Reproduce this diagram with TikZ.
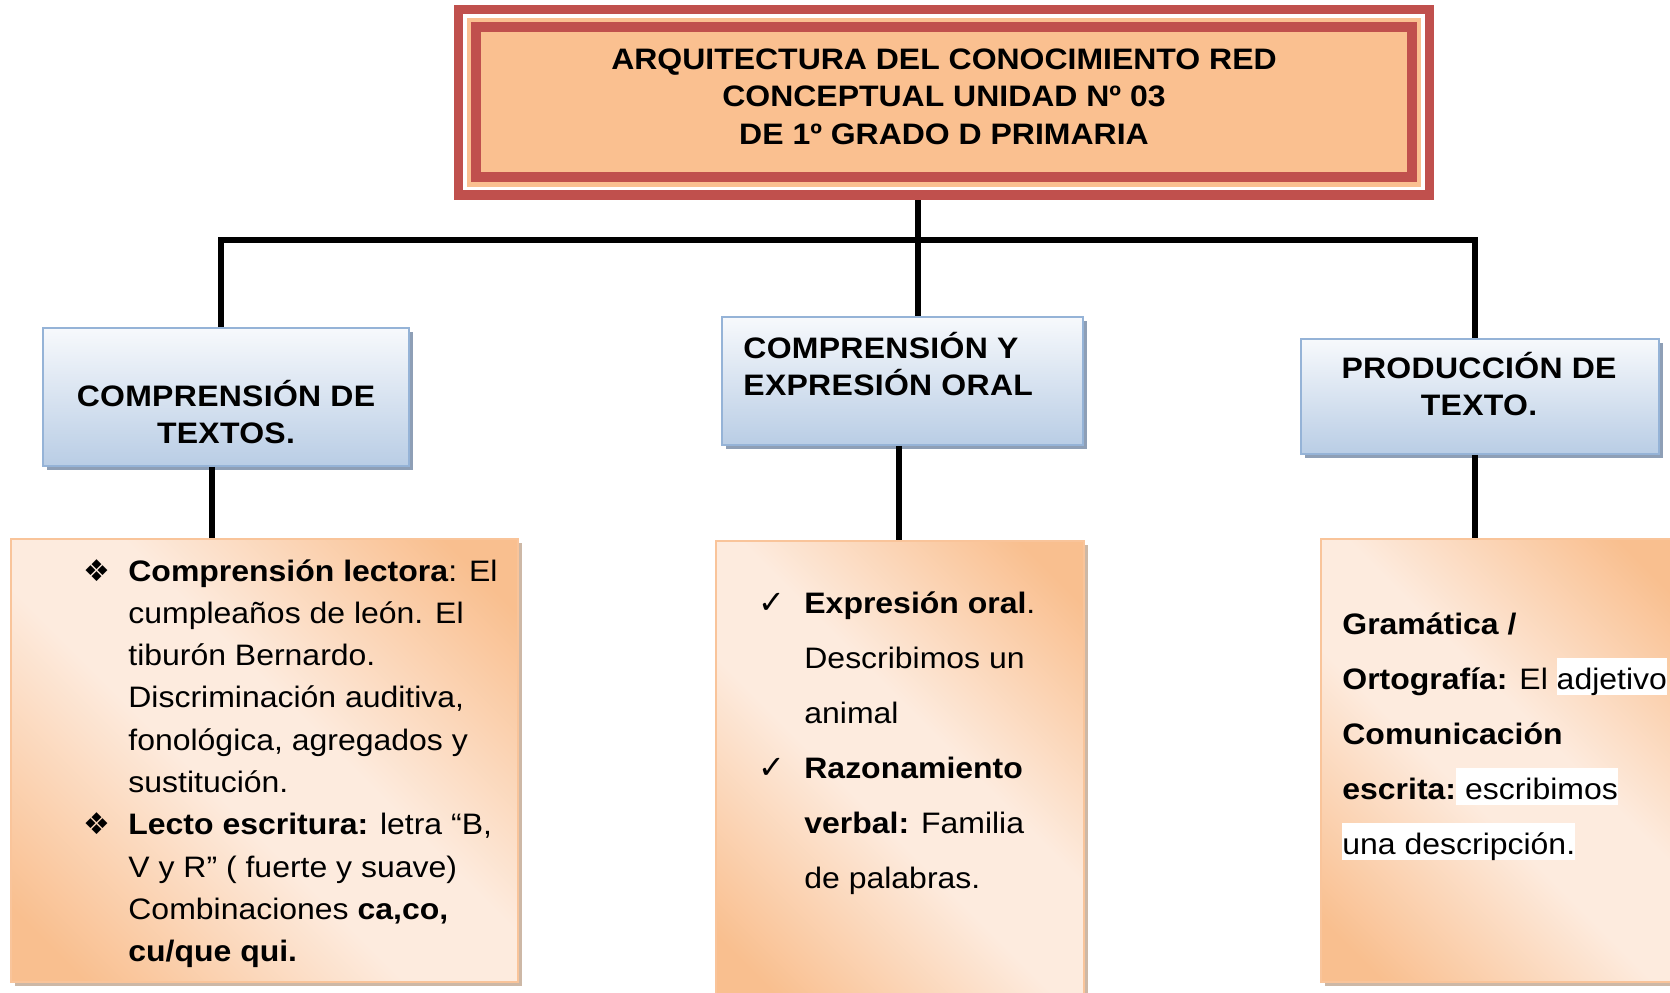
\documentclass[tikz,border=0pt]{standalone}
\usepackage{fontspec}
\setmainfont{Liberation Sans}[FakeStretch=1.08]
\newfontfamily\symfnt{DejaVu Sans}
\usetikzlibrary{shadows}
\definecolor{tred}{HTML}{C0504D}
\definecolor{tor}{HTML}{FAC090}
\definecolor{bltop}{HTML}{F7F9FC}
\definecolor{blbot}{HTML}{B9CDE5}
\definecolor{blline}{HTML}{95B3D7}
\definecolor{blshadow}{HTML}{8E9FB6}
\definecolor{pkor}{HTML}{F9BF8F}
\definecolor{pklt}{HTML}{FDEBDE}
\definecolor{pkline}{HTML}{F9C49A}
\definecolor{pkshadow}{HTML}{CDB8A6}
\pgfdeclarehorizontalshading{peach}{100bp}{color(0bp)=(pkor); color(20bp)=(pkor); color(44bp)=(pklt); color(56bp)=(pklt); color(80bp)=(pkor); color(100bp)=(pkor)}
\newcommand\hlw[1]{{\setlength{\fboxsep}{0pt}\colorbox{white}{\rule[-3pt]{0pt}{18.5pt}#1}}}
\tikzset{
  bluebox/.style={draw=blline, line width=0.8pt, top color=bltop, bottom color=blbot, inner sep=0,
    drop shadow={opacity=1, fill=blshadow, shadow xshift=2.2pt, shadow yshift=-2.2pt}},
  pkbox/.style={draw=pkline, line width=0.8pt, shade, shading=peach, shading angle=45, inner sep=0,
    drop shadow={opacity=1, fill=pkshadow, shadow xshift=2pt, shadow yshift=-2pt}},
  conn/.style={line width=2.6pt, black, line join=miter},
  ttxt/.style={inner sep=0, anchor=base, font={\fontsize{14.8}{18.75}\selectfont\bfseries}},
  btxt/.style={inner sep=0, font={\fontsize{14.8}{18.5}\selectfont\bfseries\addfontfeature{LetterSpace=1}}},
  bodyA/.style={inner sep=0, anchor=base west, font={\fontsize{14.8}{21.15}\selectfont}},
  bodyB/.style={inner sep=0, anchor=base west, font={\fontsize{14.8}{27.5}\selectfont}},
}
\newcommand\dia{{\symfnt\fontsize{15}{15}\selectfont ❖}}
\newcommand\chk{{\symfnt\fontsize{16}{16}\selectfont ✓}}
\begin{document}
\begin{tikzpicture}[x=0.5pt,y=-0.5pt]
\useasboundingbox (0,0) rectangle (1670,992);
\fill[white] (0,0) rectangle (1670,992);
% title box
\node[fill=tred, minimum width=490pt, minimum height=97.5pt, inner sep=0] (title) at (944,102.5) {};
\fill[white] ([shift={(9,9)}]title.north west) rectangle ([shift={(-9,-10)}]title.south east);
\fill[tor] ([shift={(13,13)}]title.north west) rectangle ([shift={(-13,-13)}]title.south east);
\fill[tred] ([shift={(17,17)}]title.north west) rectangle ([shift={(-17,-18)}]title.south east);
\fill[tor] ([shift={(27,27)}]title.north west) rectangle ([shift={(-27,-28)}]title.south east);
\node[ttxt] (ttl) at (944,69) {\begin{tabular}[t]{@{}c@{}}ARQUITECTURA DEL CONOCIMIENTO RED\\CONCEPTUAL UNIDAD Nº 03\\DE 1º GRADO D PRIMARIA\end{tabular}};
% coordinates for connectors
\coordinate (cL) at (221,240);
\coordinate (cM) at (918,240);
\coordinate (cR) at (1475,240);
\coordinate (xA) at (212,0);
\coordinate (xB) at (899,0);
\coordinate (xC) at (1475,0);
% blue boxes
\node[bluebox, minimum width=183pt, minimum height=69pt] (b1) at (226,397) {};
\node[bluebox, minimum width=180.5pt, minimum height=64pt] (b2) at (902.5,381) {};
\node[bluebox, minimum width=179pt, minimum height=57.5pt] (b3) at (1480,396.5) {};
% orange boxes
\node[pkbox, minimum width=253.5pt, minimum height=221.5pt] (o1) at (264.5,760.5) {};
\node[pkbox, minimum width=184pt, minimum height=229.5pt] (o2) at (900,770.5) {};
\node[pkbox, minimum width=179.5pt, minimum height=221.5pt] (o3) at (1500.5,760.5) {};
% connectors
\draw[conn] (b1.north -| cL) -- (cL) -- (cR) -- (b3.north -| cR);
\draw[conn] (title.south -| cM) -- (b2.north -| cM);
\draw[conn] (b1.south -| xA) -- (o1.north -| xA);
\draw[conn] (b2.south -| xB) -- (o2.north -| xB);
\draw[conn] (b3.south -| xC) -- (o3.north -| xC);
% blue texts
\node[btxt, anchor=base] (t1) at (226,406) {\begin{tabular}[t]{@{}c@{}}COMPRENSIÓN DE\\TEXTOS.\end{tabular}};
\node[btxt, anchor=base west] (t2) at (743,358) {\begin{tabular}[t]{@{}l@{}}COMPRENSIÓN Y\\EXPRESIÓN ORAL\end{tabular}};
\node[btxt, anchor=base] (t3) at (1479,378) {\begin{tabular}[t]{@{}c@{}}PRODUCCIÓN DE\\TEXTO.\end{tabular}};
% box texts
\node[bodyA] (tA) at (83,581) {\begin{tabular}[t]{@{}p{22.5pt}@{}l@{}}
\dia & \textbf{Comprensión lectora}: El\\
 & cumpleaños de león. El\\
 & tiburón Bernardo.\\
 & Discriminación auditiva,\\
 & fonológica, agregados y\\
 & sustitución.\\
\dia & \textbf{Lecto escritura:} letra “B,\\
 & V y R” ( fuerte y suave)\\
 & Combinaciones \textbf{ca,co,}\\
 & \textbf{cu/que qui.}
\end{tabular}};
\node[bodyB] (tB) at (758,613) {\begin{tabular}[t]{@{}p{23pt}@{}l@{}}
\chk & \textbf{Expresión oral}.\\
 & Describimos un\\
 & animal\\
\chk & \textbf{Razonamiento}\\
 & \textbf{verbal:} Familia\\
 & de palabras.
\end{tabular}};
\node[bodyB] (tC) at (1342,634) {\begin{tabular}[t]{@{}l@{}}
\textbf{Gramática /}\\
\textbf{Ortografía:} El \hlw{adjetivo}\\
\textbf{Comunicación}\\
\textbf{escrita:}\hlw{ escribimos}\\
\hlw{una descripción.}
\end{tabular}};
\end{tikzpicture}
\end{document}
